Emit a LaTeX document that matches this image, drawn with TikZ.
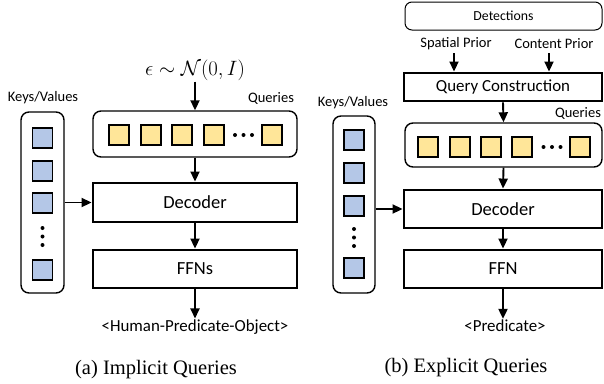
\documentclass[tikz,border=0pt]{standalone}
\usepackage{fontspec}
\setmainfont{Carlito}
\newfontfamily\capfont{Liberation Serif}
\usetikzlibrary{arrows.meta}
\definecolor{qyellow}{HTML}{FFE699}
\definecolor{kblue}{HTML}{B4C7E7}
\begin{document}
\begin{tikzpicture}[x=1pt,y=-1pt,
  arr/.style={line width=1.9pt,-{Triangle[width=9pt,length=10pt]}},
  thickbox/.style={draw,line width=2.9pt,inner sep=0pt,font=\fontsize{18.5}{20}\selectfont},
  qcbox/.style={draw,line width=2.9pt,inner sep=0pt,font=\fontsize{16.9}{18}\selectfont},
  rbox/.style={draw,line width=1.4pt,rounded corners=8pt,inner sep=0pt},
  detbox/.style={draw,line width=1pt,rounded corners=7pt,inner sep=0pt,font=\fontsize{13.8}{15}\selectfont},
  ysq/.style={draw,line width=1.7pt,fill=qyellow,minimum size=20pt,inner sep=0pt},
  bsq/.style={draw,line width=1.7pt,fill=kblue,minimum size=20pt,inner sep=0pt},
  lbl/.style={font=\fontsize{14.5}{16}\selectfont,inner sep=1pt},
  outlbl/.style={font=\fontsize{16.9}{18}\selectfont,inner sep=1pt},
  caplbl/.style={font=\capfont\fontsize{20.5}{22}\selectfont,inner sep=0pt},
  dotc/.style={fill=black}
]
\useasboundingbox (0,0) rectangle (604,383);

% ---------------- (a) Implicit queries ----------------
\node[font=\fontsize{20}{22}\selectfont,inner sep=1pt] (eps) at (195,70) {$\epsilon\sim\mathcal{N}(0,I)$};
\node[lbl] (kvL) at (43,98) {Keys/Values};
\node[lbl] (qlL) at (271,98) {Queries};
\node[rbox,minimum width=204pt,minimum height=46pt] (qboxL) at (195,134) {};
\node[ysq] (qa1) at (119,135) {};
\node[ysq] (qa2) at (151,135) {};
\node[ysq] (qa3) at (182,135) {};
\node[ysq] (qa4) at (214,135) {};
\node[ysq] (qa5) at (272,135) {};
\fill[dotc] (235,135) circle (2pt) (243.5,135) circle (2pt) (252,135) circle (2pt);

\node[rbox,minimum width=43pt,minimum height=181pt] (keysL) at (42.5,202.5) {};
\node[bsq] (ka1) at (42.5,138) {};
\node[bsq] (ka2) at (42.5,171) {};
\node[bsq] (ka3) at (42.5,203) {};
\node[bsq] (ka4) at (42.5,270) {};
\fill[dotc] (42.5,228) circle (2pt) (42.5,236.5) circle (2pt) (42.5,245) circle (2pt);

\node[thickbox,minimum width=204pt,minimum height=39pt] (decL) at (195,202.5) {Decoder};
\node[thickbox,minimum width=204pt,minimum height=38pt] (ffnL) at (195,269) {FFNs};
\node[outlbl] (outL) at (195,327) {<Human-Predicate-Object>};
\node[caplbl] (capL) at (156,370) {(a) Implicit Queries};

\draw[arr] (eps.south) -- (qboxL.north);
\draw[arr] (qboxL.south) -- (decL.north);
\draw[arr] (keysL.east |- decL.west) -- (decL.west);
\draw[arr] (decL.south) -- (ffnL.north);
\draw[arr] (ffnL.south) -- (outL.north);

% ---------------- (b) Explicit queries ----------------
\node[detbox,minimum width=197pt,minimum height=28pt] (det) at (503.5,16) {Detections};
\node[lbl] (sp) at (456,44) {Spatial Prior};
\node[lbl] (cp) at (554,44) {Content Prior};
\node[qcbox,minimum width=198pt,minimum height=28pt] (qc) at (503,87) {Query Construction};
\node[lbl] (kvR) at (353,103) {Keys/Values};
\node[lbl] (qlR) at (578,113) {Queries};
\node[rbox,minimum width=197pt,minimum height=44pt] (qboxR) at (503.5,145) {};
\node[ysq] (qb1) at (428,147) {};
\node[ysq] (qb2) at (460,147) {};
\node[ysq] (qb3) at (491,147) {};
\node[ysq] (qb4) at (522,147) {};
\node[ysq] (qb5) at (580,147) {};
\fill[dotc] (543.5,147) circle (2pt) (552,147) circle (2pt) (560.5,147) circle (2pt);

\node[rbox,minimum width=42pt,minimum height=177pt] (keysR) at (354,204.5) {};
\node[bsq] (kb1) at (354,140) {};
\node[bsq] (kb2) at (354,173) {};
\node[bsq] (kb3) at (354,206) {};
\node[bsq] (kb4) at (354,268) {};
\fill[dotc] (354,229) circle (2pt) (354,237.5) circle (2pt) (354,246) circle (2pt);

\node[thickbox,minimum width=198pt,minimum height=38pt] (decR) at (503,209) {Decoder};
\node[thickbox,minimum width=198pt,minimum height=38pt] (ffnR) at (503,269) {FFN};
\node[outlbl] (outR) at (505,326) {<Predicate>};
\node[caplbl] (capR) at (466,368) {(b) Explicit Queries};

\draw[arr] (454,53) coordinate (spa) -- (spa |- qc.north);
\draw[arr] (549,53) coordinate (cpa) -- (cpa |- qc.north);
\draw[arr] (qc.south) -- (qboxR.north);
\draw[arr] (qboxR.south) -- (decR.north);
\draw[arr] (keysR.east |- decR.west) -- (decR.west);
\draw[arr] (decR.south) -- (ffnR.north);
\draw[arr] (ffnR.south) -- (ffnR.south |- outR.north);
\end{tikzpicture}
\end{document}
